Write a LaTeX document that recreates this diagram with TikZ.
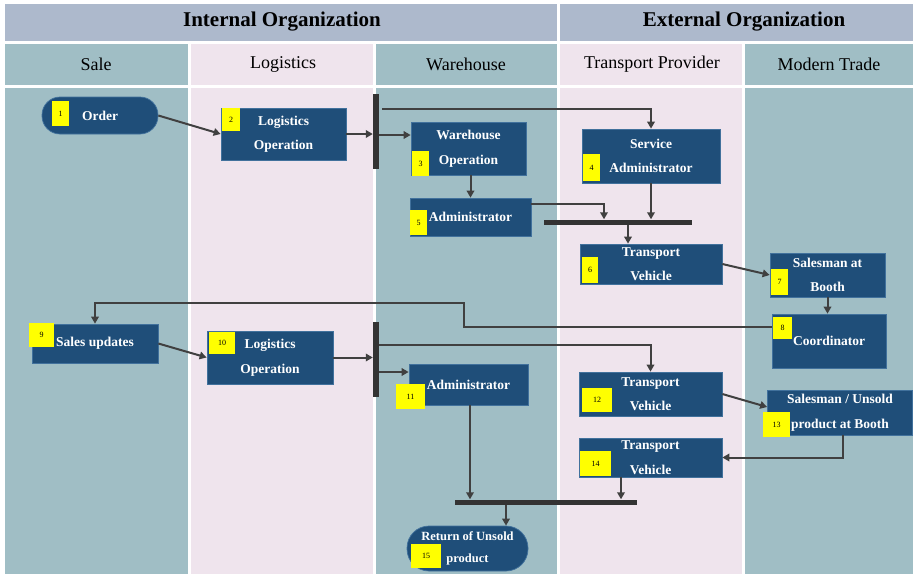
\documentclass[tikz,border=0pt]{standalone}
\usepackage{fontspec}
\setmainfont{Liberation Serif}
\usetikzlibrary{arrows.meta}
\definecolor{lanegreen}{HTML}{A0BEC5}
\definecolor{lanepink}{HTML}{EFE4ED}
\definecolor{headblue}{HTML}{ADB9CC}
\definecolor{boxblue}{HTML}{1F4E79}
\definecolor{boxedge}{HTML}{41719C}
\definecolor{tagyellow}{HTML}{FFFF00}
\definecolor{wirecol}{HTML}{404040}
\definecolor{barcol}{HTML}{333333}

\begin{document}
\begin{tikzpicture}[x=1pt,y=-1pt,
  title/.style={font=\fontsize{21}{24}\selectfont\bfseries, text=black},
  lanename/.style={font=\fontsize{18}{20}\selectfont, text=black},
  box/.style={draw=boxedge, line width=0.7pt, fill=boxblue, text=white, align=center,
              inner sep=0pt, font=\fontsize{13.5}{24.5}\selectfont\bfseries},
  pill/.style={box, rounded corners=#1},
  tag/.style={fill=tagyellow, draw=none, inner sep=0pt, text=black,
              font=\fontsize{8}{9}\selectfont},
  bar/.style={fill=barcol, draw=none, inner sep=0pt},
  flow/.style={draw=wirecol, line width=2pt, -{Triangle[length=7pt,width=7.5pt]}},
]
% page
\fill[white] (0,0) rectangle (915,574);
\useasboundingbox (0,0) rectangle (915,574);

% organisation bands
\fill[headblue] (5,4) rectangle (557,41);
\fill[headblue] (560,4) rectangle (913,41);
\node[title] (hint) at (282,22) {Internal Organization};
\node[title] (hext) at (744,22) {External Organization};

% swim lanes (label cell + body)
\foreach \xa/\xb/\col in {5/188/lanegreen, 191/373/lanepink, 376/557/lanegreen,
                          560/742/lanepink, 745/913/lanegreen}{
  \fill[\col] (\xa,44) rectangle (\xb,85);
  \fill[\col] (\xa,88) rectangle (\xb,574);
}
\node[lanename] (lsale) at (96,64) {Sale};
\node[lanename] (llog)  at (283,64) {Logistics};
\node[lanename] (lwh)   at (466,64) {Warehouse};
\node[lanename] (ltp)   at (652,64) {Transport Provider};
\node[lanename] (lmt)   at (829,64) {Modern Trade};

% process steps
\node[pill=18pt, minimum width=116pt, minimum height=37pt] (n1) at (100,115.5) {Order};
\node[box, minimum width=125pt, minimum height=52pt] (n2) at (283.5,134) {Logistics\\Operation};
\node[box, minimum width=115pt, minimum height=53pt] (n3) at (468.5,148.5) {Warehouse\\Operation};
\node[box, minimum width=138pt, minimum height=54pt] (n4) at (651,156) {Service\\Administrator};
\node[box, minimum width=121pt, minimum height=38pt] (n5) at (470.5,217) {Administrator};
\node[box, minimum width=142pt, minimum height=40pt] (n6) at (651,264) {Transport\\Vehicle};
\node[box, minimum width=115pt, minimum height=44pt] (n7) at (827.5,275) {Salesman at\\Booth};
\node[box, minimum width=114pt, minimum height=54pt] (n8) at (829,341) {Coordinator};
\node[box, minimum width=126pt, minimum height=39pt] (n9) at (95,343.5) {Sales updates};
\node[box, minimum width=126pt, minimum height=53pt] (n10) at (270,357.5) {Logistics\\Operation};
\node[box, minimum width=119pt, minimum height=41pt] (n11) at (468.5,384.5) {Administrator};
\node[box, minimum width=143pt, minimum height=44pt] (n12) at (650.5,394) {Transport\\Vehicle};
\node[box, minimum width=145pt, minimum height=45pt] (n13) at (840,412.5) {Salesman / Unsold\\product at Booth};
\node[box, minimum width=143pt, minimum height=39pt] (n14) at (650.5,457.5) {Transport\\Vehicle};
\node[pill=22pt, minimum width=121pt, minimum height=45pt,
      font=\fontsize{12.5}{22}\selectfont\bfseries] (n15) at (467.5,548.5) {Return of Unsold\\product};

% step numbers
\node[tag, minimum width=17pt, minimum height=25pt] (t1)  at (60.5,113.5) {1};
\node[tag, minimum width=18pt, minimum height=23pt] (t2)  at (231,119.5) {2};
\node[tag, minimum width=17pt, minimum height=25pt] (t3)  at (420.5,163.5) {3};
\node[tag, minimum width=17pt, minimum height=27pt] (t4)  at (591.5,167.5) {4};
\node[tag, minimum width=17pt, minimum height=25pt] (t5)  at (418.5,222.5) {5};
\node[tag, minimum width=16pt, minimum height=26pt] (t6)  at (590,270) {6};
\node[tag, minimum width=17pt, minimum height=26pt] (t7)  at (779.5,282) {7};
\node[tag, minimum width=19pt, minimum height=22pt] (t8)  at (782.5,328) {8};
\node[tag, minimum width=25pt, minimum height=24pt] (t9)  at (41.5,335) {9};
\node[tag, minimum width=26pt, minimum height=22pt] (t10) at (222,343) {10};
\node[tag, minimum width=29pt, minimum height=25pt] (t11) at (410.5,396.5) {11};
\node[tag, minimum width=30pt, minimum height=24pt] (t12) at (597,400) {12};
\node[tag, minimum width=27pt, minimum height=25pt] (t13) at (776.5,424.5) {13};
\node[tag, minimum width=31pt, minimum height=25pt] (t14) at (595.5,463.5) {14};
\node[tag, minimum width=30pt, minimum height=24pt] (t15) at (426,556) {15};

% fork / join bars
\node[bar, minimum width=6pt, minimum height=75pt]  (bar1) at (376,131.5) {};
\node[bar, minimum width=148pt, minimum height=5pt] (bar2) at (618,222) {};
\node[bar, minimum width=6pt, minimum height=75pt]  (bar3) at (376,359.5) {};
\node[bar, minimum width=182pt, minimum height=5pt] (bar4) at (546,502) {};

% delivery flow
\draw[flow] (n1.east) -- (n2.west);
\draw[flow] (n2.east) -- (n2.east -| bar1.west);
\draw[flow] ([xshift=3pt]bar1.east |- 0,109) -| (n4.north);
\draw[flow] (bar1.east |- 0,135) -- (n3.west |- 0,135);
\draw[flow] (n5.north |- n3.south) -- (n5.north);
\draw[flow] (n5.east |- 0,204) -| (bar2.north -| 604,0);
\draw[flow] (n4.south) -- (n4.south |- bar2.north);
\draw[flow] (bar2.south -| 628,0) -- (n6.north -| 628,0);
\draw[flow] (n6.east) -- (n7.west);
\draw[flow] (n7.south) -- (n7.south |- n8.north);
\draw[flow] (n8.west |- 0,327) -| (464,303) -| (n9.north);

% return flow
\draw[flow] (n9.east) -- (n10.west);
\draw[flow] (n10.east) -- (n10.east -| bar3.west);
\draw[flow] (bar3.east |- 0,345) -| (n12.north);
\draw[flow] (bar3.east |- 0,372) -- (n11.west |- 0,372);
\draw[flow] (n11.south -| 470,0) -- (bar4.north -| 470,0);
\draw[flow] (n12.east |- 0,394) -- (n13.west |- 0,407);
\draw[flow] (n13.south -| 843,0) |- (n14.east);
\draw[flow] (n14.south -| 621,0) -- (bar4.north -| 621,0);
\draw[flow] (bar4.south -| 506,0) -- (n15.north -| 506,0);
\end{tikzpicture}
\end{document}
